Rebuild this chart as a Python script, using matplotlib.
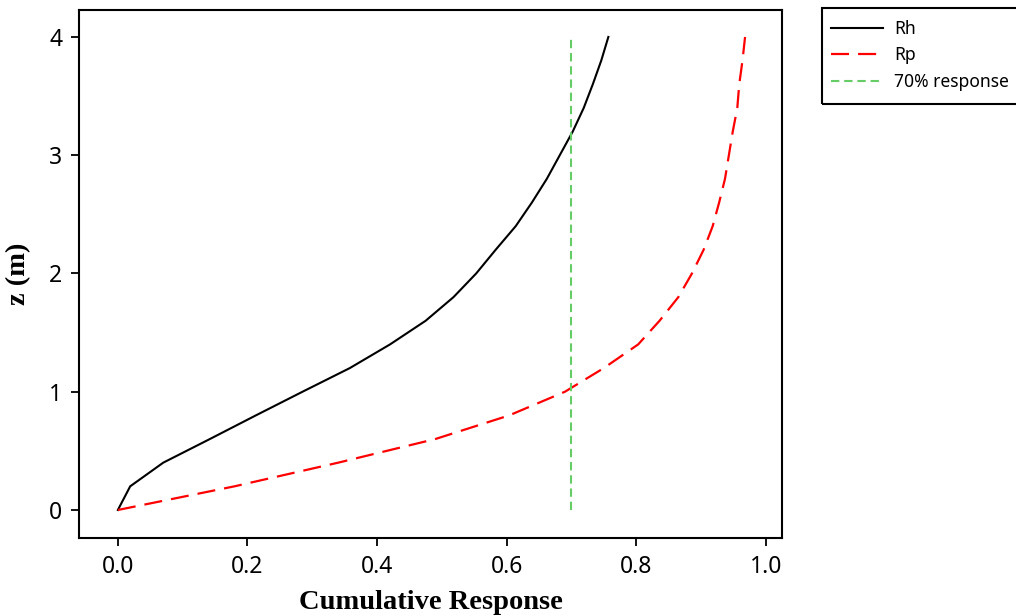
import matplotlib
matplotlib.use("Agg")
import matplotlib.pyplot as plt
from matplotlib.patches import Rectangle

# Depth (m) and cumulative response of the two components
z = [0.0, 0.2, 0.4, 0.6, 0.8, 1.0, 1.2, 1.4, 1.6, 1.8, 2.0,
     2.2, 2.4, 2.6, 2.8, 3.0, 3.2, 3.4, 3.6, 3.8, 4.0]
rh = [0.000, 0.019, 0.070, 0.142, 0.213, 0.285, 0.358, 0.420, 0.475, 0.518, 0.553,
      0.583, 0.614, 0.639, 0.662, 0.682, 0.702, 0.719, 0.733, 0.746, 0.757]
rp = [0.000, 0.180, 0.340, 0.490, 0.604, 0.690, 0.750, 0.803, 0.836, 0.865, 0.886,
      0.904, 0.918, 0.928, 0.937, 0.943, 0.949, 0.956, 0.959, 0.964, 0.968]
threshold = 0.7
threshold_z = [0.0, 4.0]

xticks = [0.0, 0.2, 0.4, 0.6, 0.8, 1.0]
yticks = [0, 1, 2, 3, 4]

plt.rcParams["font.family"] = ["Noto Sans", "DejaVu Sans"]
plt.rcParams["lines.scale_dashes"] = False

W, H = 1016, 616
fig = plt.figure(figsize=(W / 100, H / 100), dpi=100)
ax = fig.add_axes([79 / W, 1 - 538 / H, (782 - 79) / W, (538 - 10) / H])

ax.plot(rh, z, color="black", lw=1.5, label="Rh")
ax.plot(rp, z, color="#ff0000", lw=1.6, dashes=(13, 6.5), label="Rp")
ax.plot([threshold, threshold], threshold_z, color="#66cc66", lw=1.5,
        dashes=(6, 3.5), label="70% response")

ax.set_xlim(-0.060, 1.025)
ax.set_ylim(-0.237, 4.228)
ax.set_xticks(xticks)
ax.set_xticklabels([f"{v:.1f}" for v in xticks])
ax.set_yticks(yticks)
ax.set_yticklabels([str(v) for v in yticks])
ax.tick_params(axis="both", direction="out", length=6, width=1.3,
               labelsize=16.5, pad=6, top=False, right=False)

for s in ax.spines.values():
    s.set_linewidth(1.5)

label_font = dict(family="Liberation Serif", weight="bold", size=20.5)
ax.set_xlabel("Cumulative Response", fontdict=label_font, labelpad=8)
ax.set_ylabel("z (m)", fontdict=label_font, labelpad=13)

# Legend entries sit in a box that runs off the right edge of the figure
fig.legend(loc="upper left", bbox_to_anchor=(822 / W, 1 - 11 / H),
           fontsize=12.6, frameon=False,
           handlelength=3.0, handletextpad=0.62, labelspacing=0.5,
           borderpad=0.5, borderaxespad=0)
fig.patches.append(Rectangle((822 / W, 1 - 104 / H), 0.3, 96 / H,
                             transform=fig.transFigure, fill=False,
                             edgecolor="black", lw=1.5, clip_on=False))

fig.savefig("out.png", dpi=100)
